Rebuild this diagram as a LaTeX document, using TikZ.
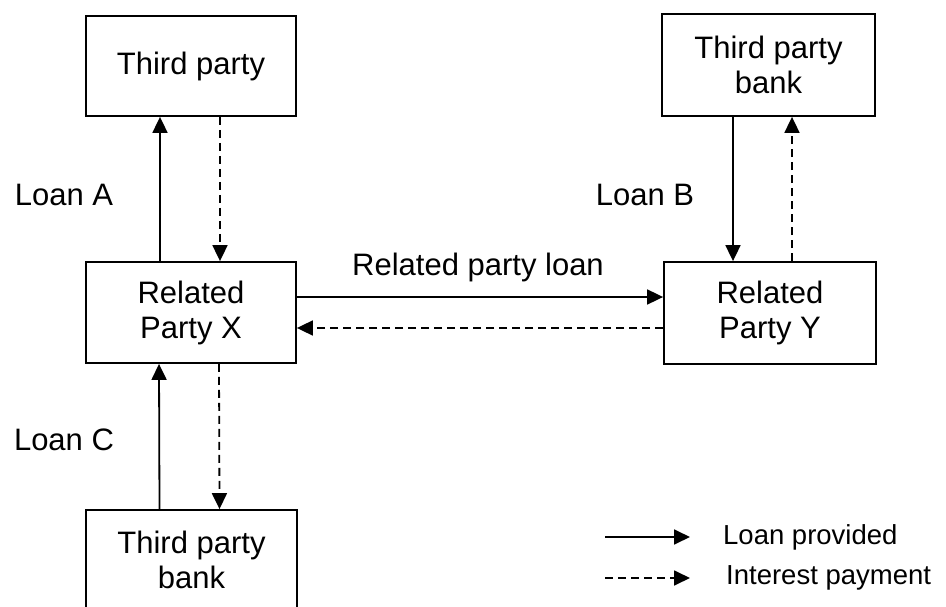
\documentclass[tikz,border=0pt]{standalone}
\usepackage{fontspec}
\setmainfont{Liberation Sans}
\usetikzlibrary{arrows.meta}
\begin{document}
\begin{tikzpicture}[x=1pt,y=-1pt,
  box/.style={draw,line width=1.8pt,align=center,inner sep=0pt,font=\fontsize{31}{35}\selectfont},
  lbl/.style={inner sep=0pt,font=\fontsize{31}{35}\selectfont},
  leg/.style={inner sep=0pt,anchor=west,font=\fontsize{27.5}{32}\selectfont},
  loan/.style={line width=1.8pt,-{Triangle[length=16pt,width=15pt]}},
  interest/.style={line width=1.8pt,dash pattern=on 8pt off 5pt,-{Triangle[length=16pt,width=15pt]}}]
\useasboundingbox[fill=white] (0,0) rectangle (946,607);
\node[box,minimum width=210pt,minimum height=100pt] (TP) at (191,66) {Third party};
\node[box,minimum width=213pt,minimum height=102pt] (TPB) at (768.5,65) {Third party\\bank};
\node[box,minimum width=210pt,minimum height=101pt] (X) at (191,312.5) {Related\\Party X};
\node[box,minimum width=212pt,minimum height=102pt] (Y) at (770,313) {Related\\Party Y};
\node[box,minimum width=211pt,minimum height=100pt] (BB) at (191.5,560) {Third party\\bank};
% Loan A
\draw[loan] ([xshift=-31pt]X.north) -- ([xshift=-31pt]TP.south);
\draw[interest] ([xshift=29pt]TP.south) -- ([xshift=29pt]X.north);
% Loan C
\draw[loan] ([xshift=-32pt]BB.north) -- ([xshift=-32pt]X.south);
\draw[interest] ([xshift=28pt]X.south) -- ([xshift=28pt]BB.north);
% Loan B
\draw[loan] ([xshift=-35.5pt]TPB.south) -- ([xshift=-37pt]Y.north);
\draw[interest] ([xshift=22pt]Y.north) -- ([xshift=23.5pt]TPB.south);
% Related party loan
\draw[loan] ([yshift=15.5pt]X.east) -- ([yshift=16pt]Y.west);
\draw[interest] ([yshift=-15pt]Y.west) -- ([yshift=-15.5pt]X.east);
% labels
\node[lbl] (la) at (64,195) {Loan A};
\node[lbl] (lb) at (645,195) {Loan B};
\node[lbl] (lc) at (64,440) {Loan C};
\node[lbl] (lr) at (478,267) {Related party loan};
% legend
\coordinate (s1) at (605,537);
\coordinate (e1) at (690,537);
\coordinate (s2) at (605,578);
\coordinate (e2) at (690,578);
\draw[loan] (s1) -- (e1);
\draw[interest] (s2) -- (e2);
\node[leg] (lp) at (723,537) {Loan provided};
\node[leg] (ip) at (726,578) {Interest payment};
\end{tikzpicture}
\end{document}
